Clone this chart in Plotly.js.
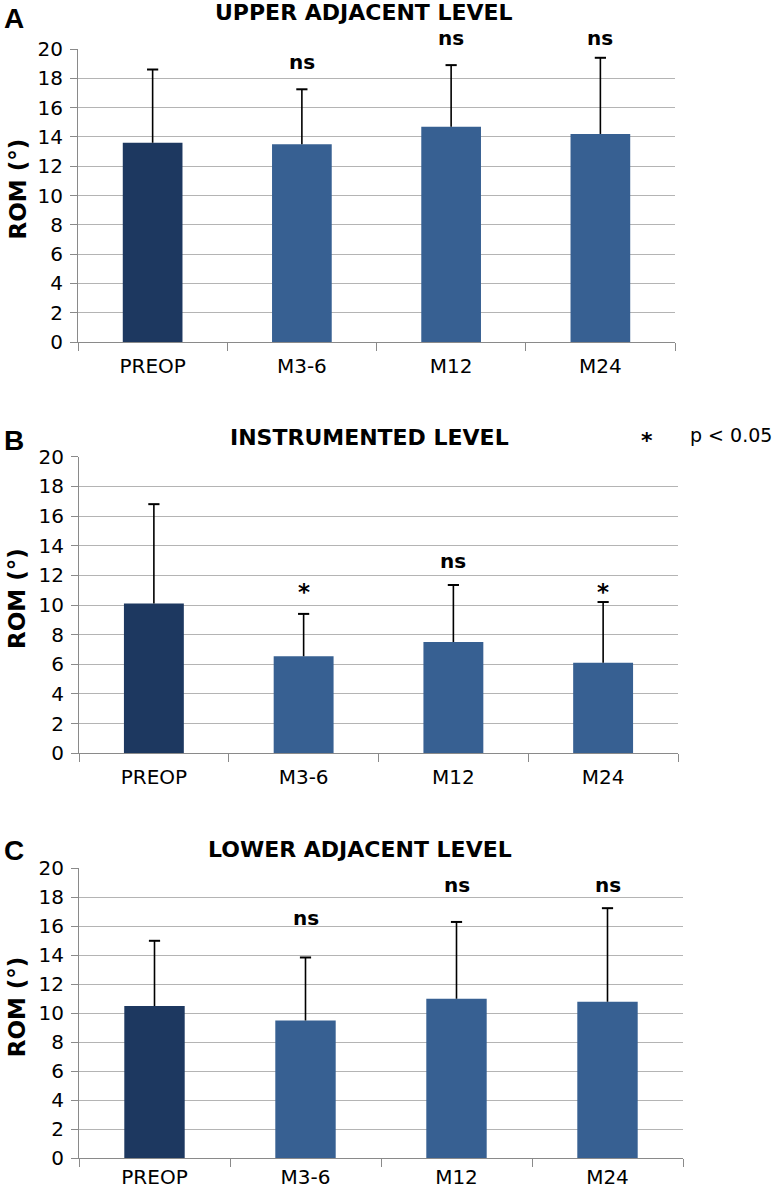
<!DOCTYPE html>
<html>
<head>
<meta charset="utf-8">
<script src="https://cdn.plot.ly/plotly-3.0.1.min.js"></script>
<style>html,body{margin:0;padding:0;background:#fff}#chart{width:774px;height:1192px}</style>
</head>
<body>
<div id="chart"></div>
<script>
// ---- data ----
const categories = ["PREOP", "M3-6", "M12", "M24"];

const upperMean = [13.6, 13.5, 14.7, 14.2];
const upperSD   = [5.0, 3.75, 4.2, 5.2];
const upperSig  = ["", "ns", "ns", "ns"];
const upperSigY = [null, 19.1, 20.75, 20.75];

const instrMean = [10.1, 6.55, 7.5, 6.1];
const instrSD   = [6.7, 2.85, 3.85, 4.1];
const instrSig  = ["", "*", "ns", "*"];
const instrSigY = [null, 11.15, 13.0, 11.15];

const lowerMean = [10.5, 9.5, 11.0, 10.8];
const lowerSD   = [4.5, 4.35, 5.3, 6.45];
const lowerSig  = ["", "ns", "ns", "ns"];
const lowerSigY = [null, 16.6, 18.85, 18.85];

const panelTitles = ["UPPER ADJACENT LEVEL", "INSTRUMENTED LEVEL", "LOWER ADJACENT LEVEL"];
const panelLetters = ["A", "B", "C"];
const yTickVals = [0, 2, 4, 6, 8, 10, 12, 14, 16, 18, 20];
const yMax = 20;
const yAxisLabel = "ROM (°)";
const legendText = "p < 0.05";

// ---- styling ----
const W = 774, H = 1192;
const FONT = "DejaVu Sans, sans-serif";
const DARK = "#1d3860";
const BLUE = "#376092";
const GRID = "#b4b4b4";
const AXIS = "#8a8a8a";

const panels = [
  {mean: upperMean, sd: upperSD, sig: upperSig, sigY: upperSigY, px: [78, 675], py: [49, 342], titleX: 364, titleY: 12.5, letterY: 18, standoff: 6},
  {mean: instrMean, sd: instrSD, sig: instrSig, sigY: instrSigY, px: [79, 678], py: [456.7, 753.3], titleX: 369, titleY: 437.5, letterY: 440, standoff: 6},
  {mean: lowerMean, sd: lowerSD, sig: lowerSig, sigY: lowerSigY, px: [79, 683], py: [868.3, 1158.3], titleX: 360, titleY: 849, letterY: 850, standoff: 1}
];

const data = [];
const layout = {
  width: W, height: H,
  margin: {l: 0, r: 0, t: 0, b: 0},
  paper_bgcolor: "#fff", plot_bgcolor: "#fff",
  showlegend: false,
  font: {family: FONT, color: "#000"},
  annotations: []
};

panels.forEach((p, i) => {
  const s = i === 0 ? "" : String(i + 1);
  const xa = "x" + s, ya = "y" + s;
  const tops = p.mean.map((m, k) => m + p.sd[k]);
  data.push({
    type: "bar",
    x: categories,
    y: p.mean,
    xaxis: xa, yaxis: ya,
    width: 0.4,
    marker: {color: categories.map((c, k) => k === 0 ? DARK : BLUE), line: {width: 0}},
    hoverinfo: "none"
  });
  // upper error bars: stem from bar top to mean+sd, with a cap only at the top
  data.push({
    type: "scatter", mode: "markers",
    x: categories, y: tops,
    xaxis: xa, yaxis: ya,
    marker: {symbol: "line-ew", size: 8, line: {color: "#000", width: 2}},
    error_y: {type: "data", symmetric: false, array: tops.map(() => 0), arrayminus: p.sd,
              color: "#000", thickness: 1.6, width: 0},
    cliponaxis: false,
    hoverinfo: "none"
  });
  const ppu = (p.py[1] - p.py[0]) / yMax;
  layout["xaxis" + s] = {
    domain: [p.px[0] / W, p.px[1] / W],
    anchor: ya,
    type: "category",
    showgrid: false,
    showline: true, linecolor: AXIS, linewidth: 1,
    ticks: "outside", tickson: "boundaries", ticklen: 8, tickcolor: AXIS, tickwidth: 1,
    tickfont: {family: FONT, size: 20, color: "#000"},
    ticklabelstandoff: p.standoff,
    fixedrange: true, zeroline: false
  };
  layout["yaxis" + s] = {
    domain: [1 - p.py[1] / H, 1 - p.py[0] / H],
    anchor: xa,
    range: [0, yMax],
    tickvals: yTickVals,
    showgrid: true, gridcolor: GRID, gridwidth: 1,
    showline: true, linecolor: AXIS, linewidth: 1,
    ticks: "outside", ticklen: 7, tickcolor: AXIS, tickwidth: 1,
    tickfont: {family: FONT, size: 20, color: "#000"},
    ticklabelstandoff: 3,
    zeroline: false, fixedrange: true
  };
  // significance labels (clamped to the axis range, offset in pixels beyond it)
  p.sig.forEach((t, k) => {
    if (!t) return;
    const yv = p.sigY[k];
    const yc = Math.min(yv, yMax);
    layout.annotations.push({
      xref: xa, yref: ya, x: categories[k], y: yc,
      text: t, showarrow: false, yanchor: "middle", xanchor: "center",
      font: {family: FONT, size: t === "*" ? 23 : 20, color: "#000", weight: "bold"},
      yshift: (yv - yc) * ppu + (t === "*" ? -4 : 0)
    });
  });
  // panel title
  layout.annotations.push({
    xref: "paper", yref: "paper", x: p.titleX / W, y: 1 - p.titleY / H,
    text: "<b>" + panelTitles[i] + "</b>", showarrow: false,
    xanchor: "center", yanchor: "middle",
    font: {family: FONT, size: 22, color: "#000"}
  });
  // panel letter
  layout.annotations.push({
    xref: "paper", yref: "paper", x: 2 / W, y: 1 - p.letterY / H,
    text: "<b>" + panelLetters[i] + "</b>", showarrow: false,
    xanchor: "left", yanchor: "middle",
    font: {family: "Liberation Sans, Arial, sans-serif", size: 28, color: "#000"}
  });
  // y axis label
  layout.annotations.push({
    xref: "paper", yref: "paper", x: 17 / W, y: 1 - ((p.py[0] + p.py[1]) / 2 - 6) / H,
    text: "<b>" + yAxisLabel + "</b>", showarrow: false, textangle: -90,
    xanchor: "center", yanchor: "middle",
    font: {family: FONT, size: 23, color: "#000"}
  });
});

// legend note for significance
layout.annotations.push({
  xref: "paper", yref: "paper", x: 647 / W, y: 1 - 440 / H,
  text: "<b>*</b>", showarrow: false, xanchor: "center", yanchor: "middle",
  font: {family: FONT, size: 22, color: "#000"}
});
layout.annotations.push({
  xref: "paper", yref: "paper", x: 688 / W, y: 1 - 435 / H,
  text: legendText, showarrow: false, xanchor: "left", yanchor: "middle",
  font: {family: FONT, size: 19, color: "#000"}
});

Plotly.newPlot("chart", data, layout, {displayModeBar: false, staticPlot: true});
</script>
</body>
</html>
